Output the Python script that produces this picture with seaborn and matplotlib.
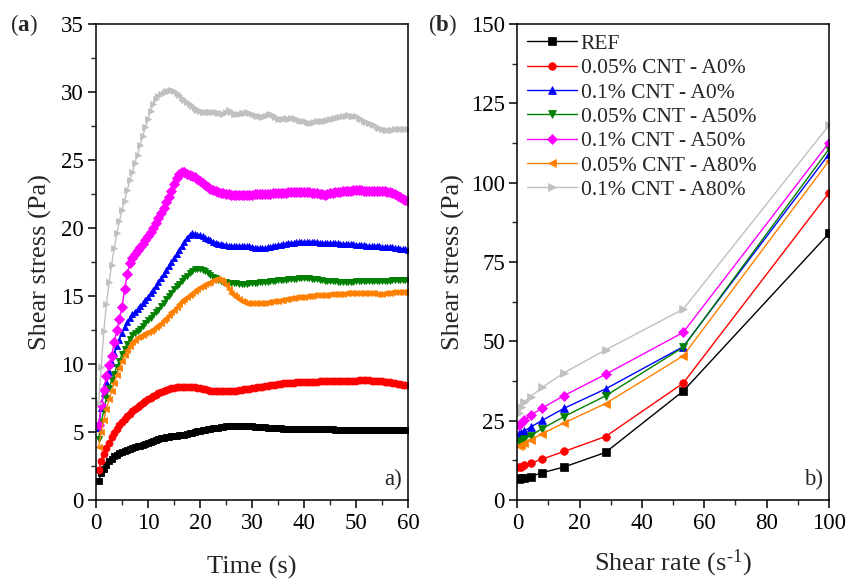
import numpy as np
import pandas as pd
import matplotlib
matplotlib.use("Agg")
import matplotlib.pyplot as plt
from matplotlib.ticker import MultipleLocator
import seaborn as sns

# ---------------- data ----------------
SERIES = ["REF", "0.05% CNT - A0%", "0.1% CNT - A0%", "0.05% CNT - A50%",
          "0.1% CNT - A50%", "0.05% CNT - A80%", "0.1% CNT - A80%"]
COLORS = ["#000000", "#FF0000", "#0000FF", "#008000", "#FF00FF", "#FF8000", "#C0C0C0"]
MARKERS = ["s", "o", "^", "v", "D", "<", ">"]

# (a) stress growth, sampled every 0.5 s
TIME = np.arange(1, 121) * 0.5

ref_t = [1.40, 1.95, 2.25, 2.60, 2.85, 3.05, 3.20, 3.30, 3.42, 3.52,
         3.60, 3.68, 3.75, 3.82, 3.88, 3.94, 4.00, 4.07, 4.14, 4.22,
         4.30, 4.36, 4.42, 4.48, 4.53, 4.58, 4.62, 4.66, 4.69, 4.72,
         4.74, 4.75, 4.76, 4.78, 4.85, 4.90, 4.95, 5.00, 5.05, 5.10,
         5.14, 5.18, 5.21, 5.24, 5.27, 5.30, 5.33, 5.36, 5.39, 5.41,
         5.43, 5.44, 5.45, 5.45, 5.45, 5.45, 5.44, 5.43, 5.42, 5.41,
         5.40, 5.39, 5.37, 5.36, 5.34, 5.32, 5.30, 5.29, 5.28, 5.27,
         5.26, 5.25, 5.24, 5.23, 5.22, 5.22, 5.21, 5.21, 5.20, 5.20,
         5.20, 5.20, 5.19, 5.19, 5.19, 5.19, 5.19, 5.19, 5.19, 5.19,
         5.19, 5.18, 5.18, 5.18, 5.18, 5.18, 5.18, 5.18, 5.18, 5.18,
         5.18, 5.18, 5.18, 5.18, 5.18, 5.18, 5.18, 5.18, 5.18, 5.18,
         5.18, 5.18, 5.18, 5.18, 5.18, 5.18, 5.18, 5.18, 5.18, 5.18]

c005_a0_t = [2.20, 2.85, 3.40, 3.80, 4.20, 4.60, 4.95, 5.25, 5.50, 5.75,
             5.97, 6.17, 6.35, 6.52, 6.68, 6.84, 6.98, 7.12, 7.26, 7.40,
             7.52, 7.64, 7.75, 7.86, 7.95, 8.04, 8.11, 8.17, 8.22, 8.26,
             8.29, 8.31, 8.32, 8.33, 8.33, 8.32, 8.31, 8.29, 8.26, 8.22,
             8.18, 8.13, 8.09, 8.05, 8.02, 8.00, 7.99, 7.98, 7.98, 7.98,
             7.99, 8.00, 8.02, 8.04, 8.07, 8.10, 8.13, 8.16, 8.19, 8.22,
             8.25, 8.28, 8.31, 8.34, 8.37, 8.40, 8.43, 8.46, 8.49, 8.52,
             8.55, 8.57, 8.59, 8.61, 8.63, 8.64, 8.65, 8.66, 8.67, 8.68,
             8.69, 8.70, 8.70, 8.71, 8.71, 8.72, 8.72, 8.73, 8.73, 8.74,
             8.74, 8.75, 8.75, 8.76, 8.76, 8.77, 8.77, 8.78, 8.78, 8.78,
             8.79, 8.79, 8.79, 8.79, 8.79, 8.78, 8.77, 8.76, 8.75, 8.73,
             8.71, 8.68, 8.65, 8.61, 8.57, 8.53, 8.50, 8.47, 8.45, 8.44]

c01_a0_t = [5.30, 6.80, 7.90, 8.70, 9.40, 10.10, 10.80, 11.30, 11.80, 12.30,
            12.75, 13.10, 13.40, 13.65, 13.85, 14.05, 14.25, 14.45, 14.70, 14.95,
            15.20, 15.45, 15.70, 16.00, 16.30, 16.60, 16.90, 17.20, 17.50, 17.80,
            18.10, 18.40, 18.70, 19.00, 19.30, 19.50, 19.60, 19.58, 19.50, 19.45,
            19.40, 19.30, 19.20, 19.10, 19.00, 18.92, 18.85, 18.80, 18.76, 18.73,
            18.71, 18.70, 18.69, 18.68, 18.68, 18.67, 18.66, 18.65, 18.64, 18.60,
            18.56, 18.52, 18.50, 18.50, 18.54, 18.58, 18.62, 18.66, 18.70, 18.74,
            18.78, 18.82, 18.85, 18.88, 18.90, 18.92, 18.94, 18.95, 18.96, 18.97,
            18.97, 18.97, 18.96, 18.95, 18.94, 18.93, 18.92, 18.91, 18.90, 18.89,
            18.88, 18.88, 18.87, 18.86, 18.85, 18.84, 18.83, 18.82, 18.80, 18.78,
            18.76, 18.74, 18.72, 18.70, 18.68, 18.67, 18.66, 18.65, 18.64, 18.63,
            18.62, 18.61, 18.60, 18.58, 18.55, 18.52, 18.49, 18.46, 18.43, 18.40]

c005_a50_t = [4.50, 5.70, 6.60, 7.50, 8.20, 8.80, 9.30, 9.80, 10.25, 10.70,
              11.10, 11.50, 11.85, 12.10, 12.30, 12.45, 12.60, 12.80, 13.00, 13.20,
              13.40, 13.60, 13.80, 14.00, 14.25, 14.50, 14.75, 15.00, 15.25, 15.50,
              15.70, 15.90, 16.10, 16.30, 16.50, 16.70, 16.85, 16.97, 17.02, 17.00,
              16.93, 16.82, 16.70, 16.55, 16.42, 16.30, 16.20, 16.12, 16.06, 16.02,
              15.99, 15.96, 15.94, 15.92, 15.91, 15.90, 15.90, 15.91, 15.92, 15.94,
              15.96, 15.98, 16.00, 16.02, 16.04, 16.06, 16.08, 16.10, 16.12, 16.14,
              16.16, 16.18, 16.20, 16.22, 16.24, 16.26, 16.28, 16.30, 16.31, 16.31,
              16.30, 16.29, 16.27, 16.25, 16.22, 16.19, 16.16, 16.13, 16.11, 16.09,
              16.08, 16.07, 16.06, 16.06, 16.05, 16.05, 16.05, 16.05, 16.06, 16.07,
              16.08, 16.09, 16.10, 16.10, 16.10, 16.10, 16.10, 16.10, 16.10, 16.10,
              16.11, 16.12, 16.13, 16.14, 16.15, 16.16, 16.17, 16.18, 16.19, 16.20]

c01_a50_t = [5.50, 7.00, 8.10, 9.10, 9.90, 10.60, 11.60, 12.50, 13.30, 14.20,
             15.50, 16.60, 17.40, 17.80, 18.10, 18.35, 18.60, 18.85, 19.10, 19.40,
             19.70, 20.00, 20.35, 20.70, 21.10, 21.50, 21.90, 22.30, 22.75, 23.20,
             23.65, 24.00, 24.15, 24.10, 24.00, 23.92, 23.85, 23.75, 23.60, 23.45,
             23.30, 23.15, 23.00, 22.88, 22.78, 22.70, 22.65, 22.60, 22.56, 22.52,
             22.48, 22.45, 22.43, 22.42, 22.42, 22.42, 22.43, 22.44, 22.45, 22.46,
             22.47, 22.48, 22.49, 22.50, 22.51, 22.52, 22.53, 22.55, 22.57, 22.58,
             22.59, 22.60, 22.61, 22.62, 22.63, 22.63, 22.64, 22.64, 22.64, 22.64,
             22.63, 22.62, 22.60, 22.58, 22.55, 22.52, 22.48, 22.45, 22.48, 22.55,
             22.60, 22.63, 22.65, 22.67, 22.69, 22.71, 22.73, 22.75, 22.77, 22.78,
             22.77, 22.76, 22.75, 22.74, 22.74, 22.74, 22.73, 22.72, 22.71, 22.70,
             22.69, 22.66, 22.62, 22.56, 22.48, 22.38, 22.27, 22.15, 22.05, 21.98]

c005_a80_t = [3.90, 5.00, 5.90, 6.70, 7.40, 8.00, 8.60, 9.20, 9.70, 10.20,
              10.65, 11.00, 11.35, 11.60, 11.80, 11.95, 12.05, 12.15, 12.25, 12.35,
              12.45, 12.55, 12.70, 12.85, 13.00, 13.20, 13.40, 13.60, 13.80, 14.00,
              14.20, 14.40, 14.60, 14.80, 14.95, 15.10, 15.25, 15.40, 15.52, 15.65,
              15.75, 15.85, 15.95, 16.05, 16.15, 16.22, 16.25, 16.20, 16.05, 15.80,
              15.50, 15.25, 15.05, 14.90, 14.75, 14.65, 14.57, 14.52, 14.50, 14.48,
              14.47, 14.47, 14.48, 14.50, 14.52, 14.55, 14.58, 14.60, 14.63, 14.66,
              14.70, 14.73, 14.76, 14.80, 14.83, 14.86, 14.89, 14.92, 14.94, 14.96,
              14.98, 15.00, 15.02, 15.04, 15.05, 15.07, 15.08, 15.10, 15.11, 15.12,
              15.14, 15.15, 15.16, 15.17, 15.18, 15.19, 15.20, 15.21, 15.22, 15.22,
              15.23, 15.24, 15.25, 15.25, 15.24, 15.22, 15.20, 15.18, 15.17, 15.18,
              15.20, 15.22, 15.24, 15.26, 15.27, 15.28, 15.29, 15.30, 15.30, 15.30]

c01_a80_t = [7.10, 9.80, 12.40, 14.40, 16.00, 17.30, 18.50, 19.60, 20.50, 21.30,
             22.00, 22.80, 23.50, 24.10, 24.80, 25.40, 26.10, 26.80, 27.40, 28.00,
             28.60, 29.10, 29.45, 29.70, 29.85, 29.95, 30.05, 30.10, 30.15, 30.10,
             29.95, 29.75, 29.55, 29.40, 29.25, 29.10, 28.95, 28.82, 28.70, 28.62,
             28.56, 28.55, 28.53, 28.55, 28.52, 28.50, 28.48, 28.45, 28.40, 28.50,
             28.65, 28.55, 28.40, 28.35, 28.40, 28.42, 28.45, 28.50, 28.45, 28.38,
             28.30, 28.25, 28.20, 28.15, 28.20, 28.30, 28.38, 28.30, 28.15, 28.02,
             28.00, 28.05, 28.10, 28.05, 28.08, 28.10, 28.00, 27.95, 27.90, 27.85,
             27.78, 27.72, 27.70, 27.78, 27.85, 27.88, 27.90, 27.88, 27.92, 27.98,
             28.05, 28.10, 28.15, 28.18, 28.22, 28.25, 28.28, 28.25, 28.22, 28.20,
             28.12, 28.00, 27.88, 27.78, 27.70, 27.62, 27.55, 27.45, 27.35, 27.28,
             27.22, 27.18, 27.20, 27.24, 27.26, 27.28, 27.28, 27.30, 27.30, 27.30]

# (b) flow curves
SHEAR_RATE = [0.64, 1.2, 2.26, 4.26, 8.0, 15.0, 28.3, 53.2, 100.0]
ref_f = [6.6, 6.8, 7.0, 7.4, 8.6, 10.4, 15.0, 34.3, 84.0]
c005_a0_f = [10.3, 10.5, 10.9, 11.6, 12.9, 15.3, 20.0, 36.8, 96.8]
c01_a0_f = [20.8, 21.0, 21.7, 23.0, 25.1, 28.9, 35.0, 48.3, 109.0]
c005_a50_f = [18.5, 18.7, 19.1, 20.3, 22.5, 26.3, 32.8, 48.1, 110.6]
c01_a50_f = [23.5, 24.3, 25.2, 26.7, 29.0, 32.9, 39.6, 52.8, 112.6]
c005_a80_f = [17.1, 17.4, 18.0, 18.9, 20.9, 24.3, 30.4, 45.4, 106.9]
c01_a80_f = [27.3, 29.2, 31.0, 32.6, 35.5, 40.1, 47.3, 60.1, 118.1]

growth = [ref_t, c005_a0_t, c01_a0_t, c005_a50_t, c01_a50_t, c005_a80_t, c01_a80_t]
flow = [ref_f, c005_a0_f, c01_a0_f, c005_a50_f, c01_a50_f, c005_a80_f, c01_a80_f]

df_a = pd.concat([pd.DataFrame({"t": TIME, "tau": v, "sample": s})
                  for s, v in zip(SERIES, growth)], ignore_index=True)
df_b = pd.concat([pd.DataFrame({"rate": SHEAR_RATE, "tau": v, "sample": s})
                  for s, v in zip(SERIES, flow)], ignore_index=True)

# ---------------- style ----------------
sns.set_style("ticks")
plt.rcParams["font.family"] = ["Liberation Serif", "DejaVu Serif"]
plt.rcParams["mathtext.fontset"] = "custom"
plt.rcParams["mathtext.rm"] = "Liberation Serif"
plt.rcParams["mathtext.it"] = "Liberation Serif:italic"
plt.rcParams["mathtext.bf"] = "Liberation Serif:bold"
plt.rcParams["axes.linewidth"] = 1.1
plt.rcParams["xtick.major.width"] = 1.1
plt.rcParams["ytick.major.width"] = 1.1
plt.rcParams["xtick.minor.width"] = 1.0
plt.rcParams["ytick.minor.width"] = 1.0

palette = dict(zip(SERIES, COLORS))
markers = dict(zip(SERIES, MARKERS))

fig = plt.figure(figsize=(8.46, 5.81), dpi=100)
ax_a = fig.add_axes([0.1135, 0.1394, 0.3688, 0.8193])
ax_b = fig.add_axes([0.6115, 0.1394, 0.3684, 0.8193])

sns.lineplot(data=df_a, x="t", y="tau", hue="sample", style="sample",
             hue_order=SERIES, style_order=SERIES, palette=palette,
             markers=markers, dashes=False, estimator=None, sort=True,
             linewidth=1.0, markersize=5.0, markeredgewidth=0.6,
             legend=False, ax=ax_a)

sns.lineplot(data=df_b, x="rate", y="tau", hue="sample", style="sample",
             hue_order=SERIES, style_order=SERIES, palette=palette,
             markers=markers, dashes=False, estimator=None, sort=True,
             linewidth=1.0, markersize=5.5, markeredgewidth=0.5,
             legend=True, ax=ax_b)

# solid markers: edge drawn in the line's own colour
for ax in (ax_a, ax_b):
    for ln in ax.lines:
        ln.set_markeredgecolor(ln.get_color())


def style_axis(ax, xmax, xmaj, xmin, ymax, ymaj, ymin):
    ax.set_xlim(0, xmax)
    ax.set_ylim(0, ymax)
    ax.xaxis.set_major_locator(MultipleLocator(xmaj))
    ax.xaxis.set_minor_locator(MultipleLocator(xmin))
    ax.yaxis.set_major_locator(MultipleLocator(ymaj))
    ax.yaxis.set_minor_locator(MultipleLocator(ymin))
    ax.tick_params(which="major", direction="out", length=6, labelsize=16.5,
                   top=False, right=False, pad=3, colors="black")
    ax.tick_params(which="minor", direction="out", length=3.5,
                   top=False, right=False)
    for sp in ax.spines.values():
        sp.set_visible(True)
        sp.set_color("black")


style_axis(ax_a, 60, 10, 5, 35, 5, 2.5)
style_axis(ax_b, 100, 20, 10, 150, 25, 12.5)

ax_a.set_xlabel("Time (s)", fontsize=19, labelpad=16)
ax_a.set_ylabel("Shear stress (Pa)", fontsize=19, labelpad=6)
ax_b.set_xlabel("Shear rate (s$^{\u2010 1}$)", fontsize=19, labelpad=10)
ax_b.set_ylabel("Shear stress (Pa)", fontsize=19, labelpad=4)

ax_a.text(0.98, 0.022, "a)", transform=ax_a.transAxes, ha="right",
          va="bottom", fontsize=16.5)
ax_b.text(0.98, 0.022, "b)", transform=ax_b.transAxes, ha="right",
          va="bottom", fontsize=16.5)

fig.text(0.012, 0.957, r"($\mathbf{a}$)", fontsize=16.5, ha="left", va="center")
fig.text(0.506, 0.957, r"($\mathbf{b}$)", fontsize=16.5, ha="left", va="center")

handles, labels = ax_b.get_legend_handles_labels()
for h in handles:
    h.set_markeredgecolor(h.get_color())
ax_b.legend(handles, labels, loc="upper left", frameon=False, fontsize=15.5,
            handlelength=2.3, handletextpad=0.2, labelspacing=0.2,
            borderaxespad=0.0, borderpad=0.45, bbox_to_anchor=(0.0, 1.0))

fig.savefig("out.png", dpi=100)
